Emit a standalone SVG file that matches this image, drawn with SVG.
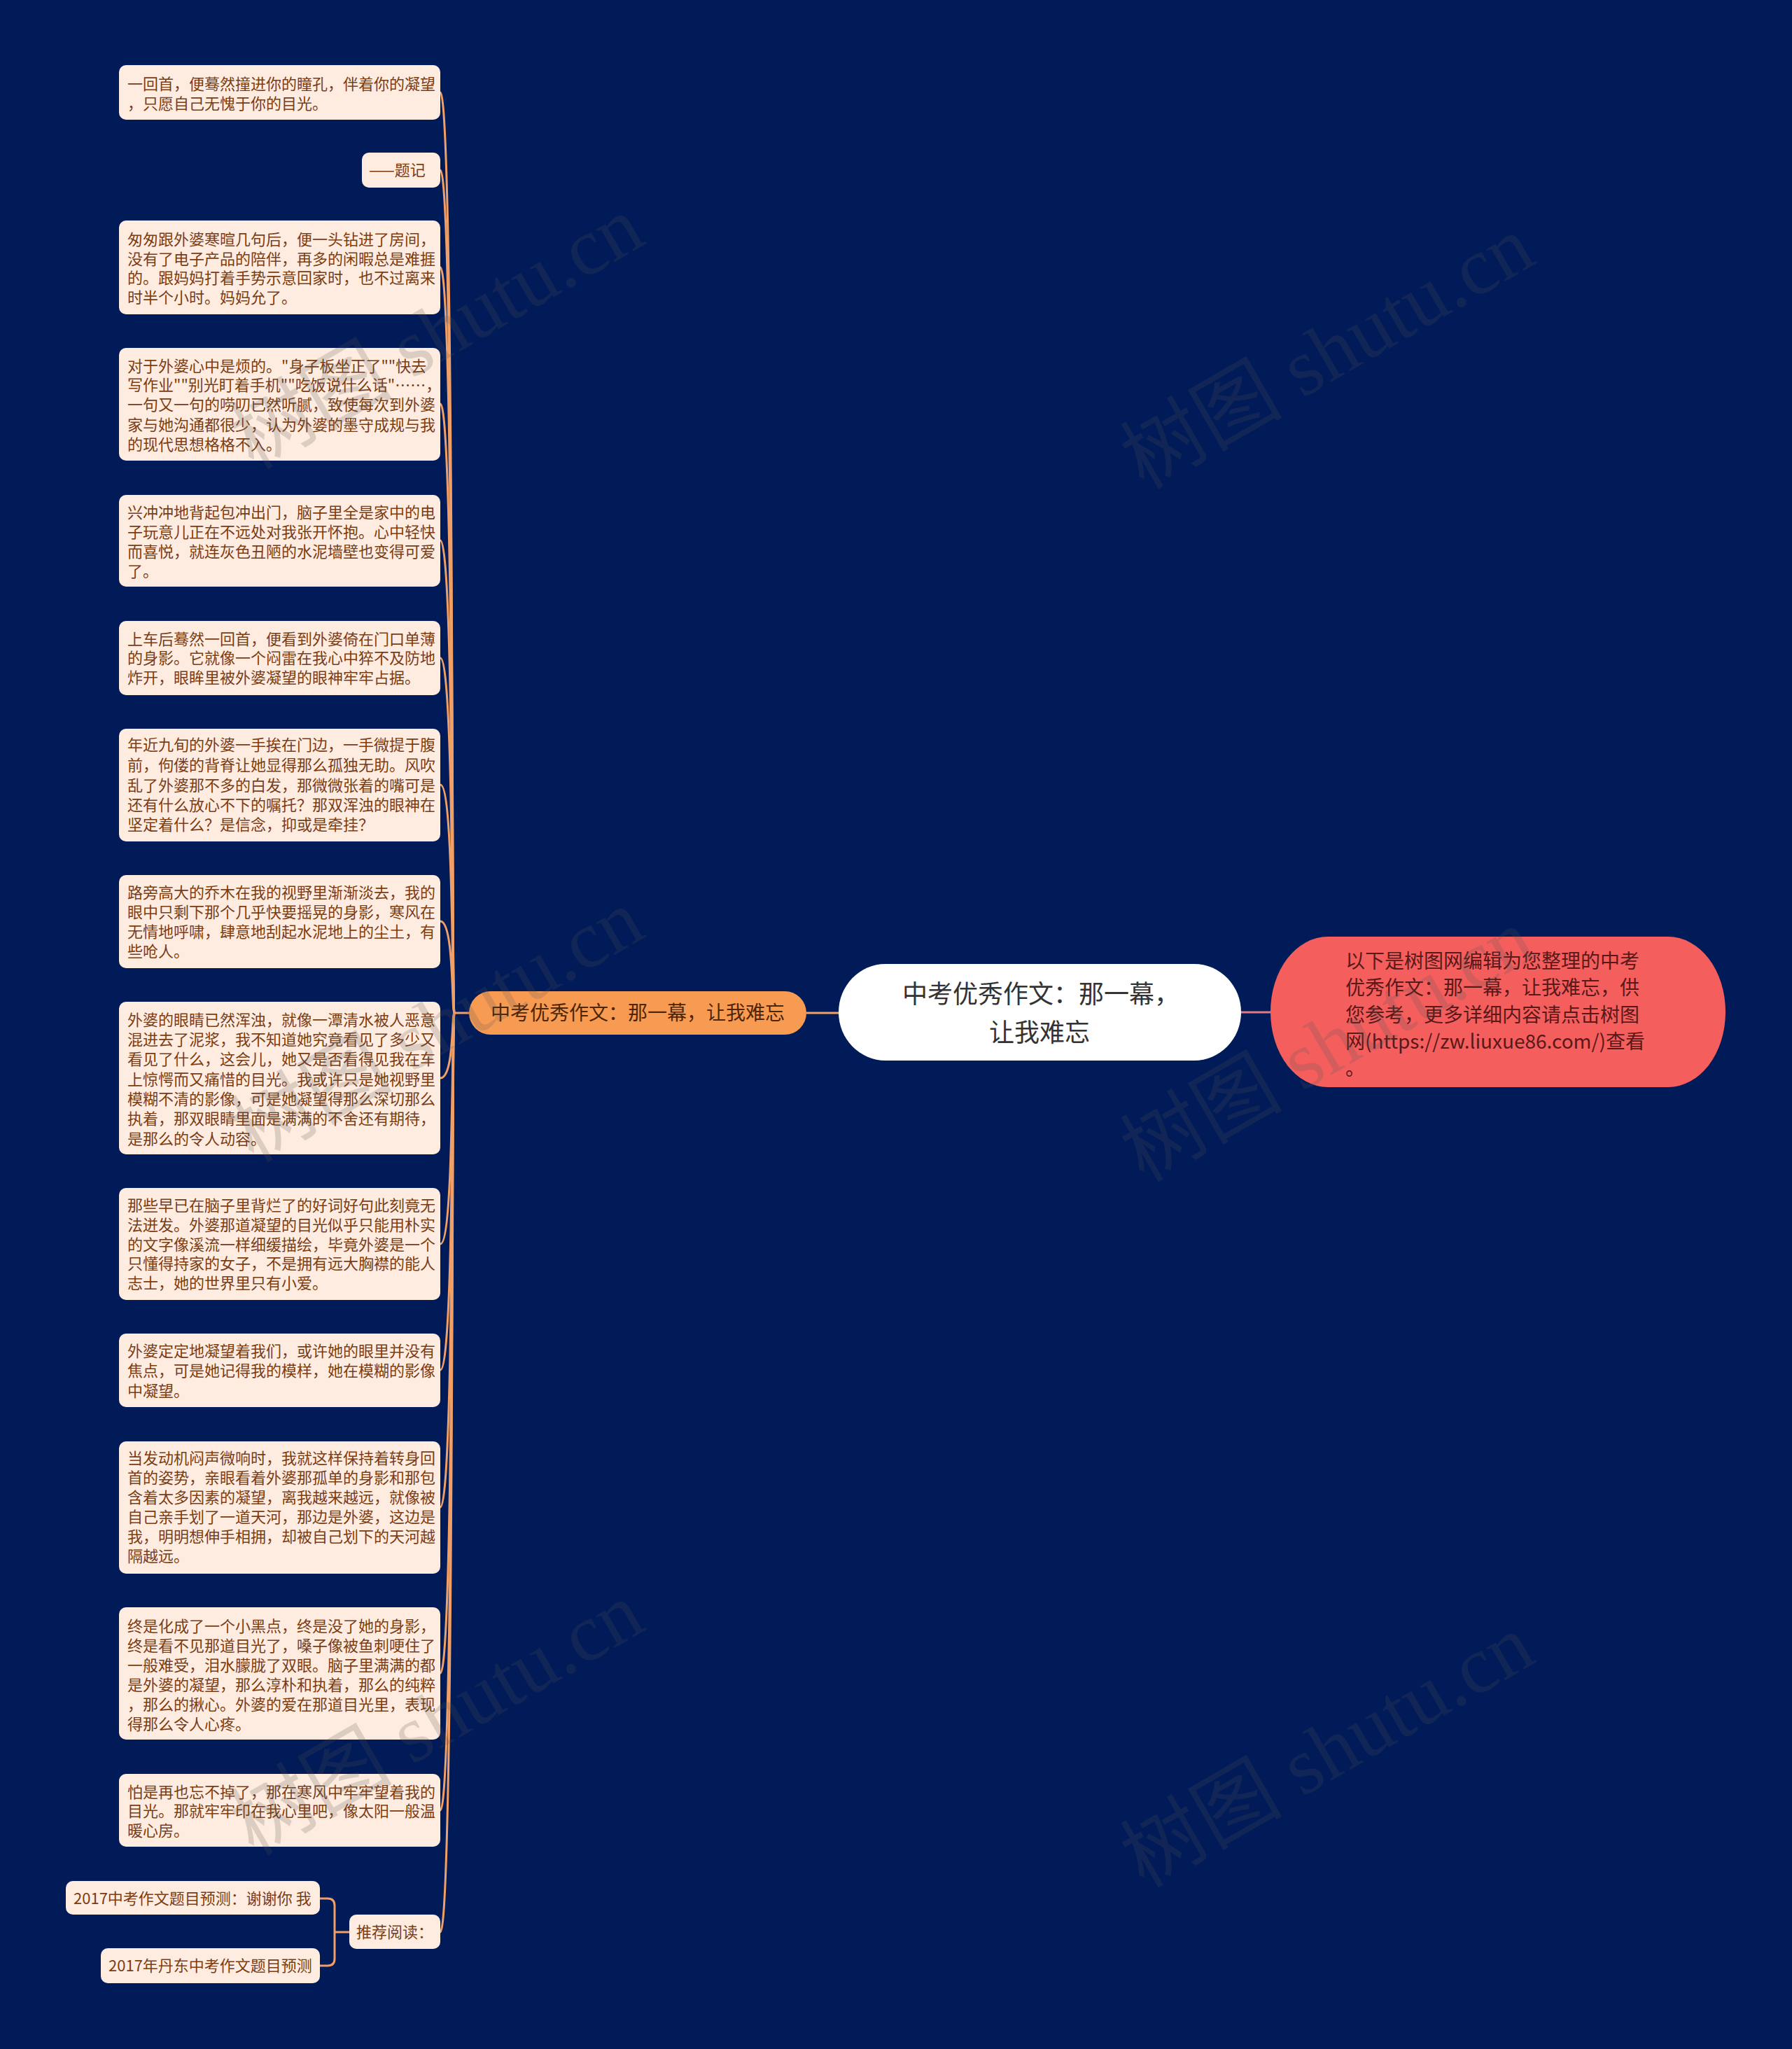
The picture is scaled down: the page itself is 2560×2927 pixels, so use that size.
<svg xmlns="http://www.w3.org/2000/svg" width="2560" height="2927" viewBox="0 0 2560 2927">
<style>
.bg{fill:#001b58}
.leaf{fill:#ffece0}
.lt{font-family:"Noto Sans CJK SC","Noto Sans",sans-serif;font-size:22px;fill:#7a3d14}
.con{fill:none;stroke:#f0a066;stroke-width:3}
.wm{font-family:"Liberation Serif","Noto Sans CJK SC",serif;font-size:116px;fill:#555;opacity:0.2}
</style>
<rect class="bg" x="0" y="0" width="2560" height="2927"/>

<g id="connectors">
<line x1="1152" y1="1447" x2="1199" y2="1447" class="con"/>
<line x1="1772" y1="1446" x2="1815" y2="1446" stroke="#e07a85" stroke-width="3"/>
<line x1="649" y1="1447" x2="671" y2="1447" class="con"/>
<path class="con" d="M629 132 C649 132 645 1447 649 1447"/>
<path class="con" d="M629 243 C649 243 645 1447 649 1447"/>
<path class="con" d="M629 382 C649 382 645 1447 649 1447"/>
<path class="con" d="M629 577 C649 577 645 1447 649 1447"/>
<path class="con" d="M629 772 C649 772 645 1447 649 1447"/>
<path class="con" d="M629 940 C649 940 645 1447 649 1447"/>
<path class="con" d="M629 1121 C649 1121 645 1447 649 1447"/>
<path class="con" d="M629 1316 C649 1316 645 1447 649 1447"/>
<path class="con" d="M629 1540 C649 1540 645 1447 649 1447"/>
<path class="con" d="M629 1777 C649 1777 645 1447 649 1447"/>
<path class="con" d="M629 1957 C649 1957 645 1447 649 1447"/>
<path class="con" d="M629 2153 C649 2153 645 1447 649 1447"/>
<path class="con" d="M629 2390 C649 2390 645 1447 649 1447"/>
<path class="con" d="M629 2586 C649 2586 645 1447 649 1447"/>
<path class="con" d="M629 2760 C649 2760 645 1447 649 1447"/>
<path class="con" d="M499 2760 L478 2760 M457 2712 L468 2712 Q478 2712 478 2722 L478 2798 Q478 2808 468 2808 L457 2808"/>
</g>

<g id="root">
<rect x="1198" y="1377" width="575" height="138" rx="67" ry="69" fill="#ffffff"/>
<text x="1487" y="1433" text-anchor="middle" font-family="'Noto Sans CJK SC','Noto Sans',sans-serif" font-size="36" fill="#333333">中考优秀作文：那一幕，</text>
<text x="1485" y="1488" text-anchor="middle" font-family="'Noto Sans CJK SC','Noto Sans',sans-serif" font-size="36" fill="#333333">让我难忘</text>
</g>

<g id="summary">
<rect x="1815" y="1338" width="650" height="215" rx="82" ry="107" fill="#f45f5e"/>
<g font-family="'Noto Sans CJK SC','Noto Sans',sans-serif" font-size="28" fill="#5a1818">
<text x="1922" y="1383">以下是树图网编辑为您整理的中考</text>
<text x="1922" y="1421">优秀作文：那一幕，让我难忘，供</text>
<text x="1922" y="1460">您参考，更多详细内容请点击树图</text>
<text x="1922" y="1498">网(https://zw.liuxue86.com/)查看</text>
<text x="1922" y="1536">。</text>
</g>
</g>

<g id="branch">
<rect x="670" y="1416" width="482" height="62" rx="31" fill="#f89b52"/>
<text x="911" y="1457" text-anchor="middle" font-family="'Noto Sans CJK SC','Noto Sans',sans-serif" font-size="28" fill="#4d2608">中考优秀作文：那一幕，让我难忘</text>
</g>

<g id="leaf1"><rect class="leaf" x="170" y="93" width="459" height="78" rx="10"/>
<text class="lt" x="182" y="128">一回首，便蓦然撞进你的瞳孔，伴着你的凝望</text>
<text class="lt" x="182" y="156">，只愿自己无愧于你的目光。</text></g>

<g id="leaf2"><rect class="leaf" x="517" y="218" width="112" height="50" rx="10"/>
<text class="lt" x="527" y="251">——题记</text></g>

<g id="leaf3"><rect class="leaf" x="170" y="315" width="459" height="134" rx="10"/>
<text class="lt" x="182" y="350">匆匆跟外婆寒暄几句后，便一头钻进了房间，</text>
<text class="lt" x="182" y="378">没有了电子产品的陪伴，再多的闲暇总是难捱</text>
<text class="lt" x="182" y="405">的。跟妈妈打着手势示意回家时，也不过离来</text>
<text class="lt" x="182" y="433">时半个小时。妈妈允了。</text></g>

<g id="leaf4"><rect class="leaf" x="170" y="497" width="459" height="161" rx="10"/>
<text class="lt" x="182" y="531">对于外婆心中是烦的。"身子板坐正了""快去</text>
<text class="lt" x="182" y="558">写作业""别光盯着手机""吃饭说什么话"……，</text>
<text class="lt" x="182" y="586">一句又一句的唠叨已然听腻，致使每次到外婆</text>
<text class="lt" x="182" y="615">家与她沟通都很少，认为外婆的墨守成规与我</text>
<text class="lt" x="182" y="643">的现代思想格格不入。</text></g>

<g id="leaf5"><rect class="leaf" x="170" y="707" width="459" height="131" rx="10"/>
<text class="lt" x="182" y="740">兴冲冲地背起包冲出门，脑子里全是家中的电</text>
<text class="lt" x="182" y="768">子玩意儿正在不远处对我张开怀抱。心中轻快</text>
<text class="lt" x="182" y="796">而喜悦，就连灰色丑陋的水泥墙壁也变得可爱</text>
<text class="lt" x="182" y="824">了。</text></g>

<g id="leaf6"><rect class="leaf" x="170" y="887" width="459" height="106" rx="10"/>
<text class="lt" x="182" y="921">上车后蓦然一回首，便看到外婆倚在门口单薄</text>
<text class="lt" x="182" y="948">的身影。它就像一个闷雷在我心中猝不及防地</text>
<text class="lt" x="182" y="976">炸开，眼眸里被外婆凝望的眼神牢牢占据。</text></g>

<g id="leaf7"><rect class="leaf" x="170" y="1041" width="459" height="161" rx="10"/>
<text class="lt" x="182" y="1072">年近九旬的外婆一手挨在门边，一手微提于腹</text>
<text class="lt" x="182" y="1101">前，佝偻的背脊让她显得那么孤独无助。风吹</text>
<text class="lt" x="182" y="1130">乱了外婆那不多的白发，那微微张着的嘴可是</text>
<text class="lt" x="182" y="1158">还有什么放心不下的嘱托？那双浑浊的眼神在</text>
<text class="lt" x="182" y="1186">坚定着什么？是信念，抑或是牵挂？</text></g>

<g id="leaf8"><rect class="leaf" x="170" y="1250" width="459" height="133" rx="10"/>
<text class="lt" x="182" y="1283">路旁高大的乔木在我的视野里渐渐淡去，我的</text>
<text class="lt" x="182" y="1311">眼中只剩下那个几乎快要摇晃的身影，寒风在</text>
<text class="lt" x="182" y="1339">无情地呼啸，肆意地刮起水泥地上的尘土，有</text>
<text class="lt" x="182" y="1367">些呛人。</text></g>

<g id="leaf9"><rect class="leaf" x="170" y="1431" width="459" height="218" rx="10"/>
<text class="lt" x="182" y="1465">外婆的眼睛已然浑浊，就像一潭清水被人恶意</text>
<text class="lt" x="182" y="1493">混进去了泥浆，我不知道她究竟看见了多少又</text>
<text class="lt" x="182" y="1521">看见了什么，这会儿，她又是否看得见我在车</text>
<text class="lt" x="182" y="1550">上惊愕而又痛惜的目光。我或许只是她视野里</text>
<text class="lt" x="182" y="1578">模糊不清的影像，可是她凝望得那么深切那么</text>
<text class="lt" x="182" y="1606">执着，那双眼睛里面是满满的不舍还有期待，</text>
<text class="lt" x="182" y="1635">是那么的令人动容。</text></g>

<g id="leaf10"><rect class="leaf" x="170" y="1697" width="459" height="160" rx="10"/>
<text class="lt" x="182" y="1730">那些早已在脑子里背烂了的好词好句此刻竟无</text>
<text class="lt" x="182" y="1758">法迸发。外婆那道凝望的目光似乎只能用朴实</text>
<text class="lt" x="182" y="1786">的文字像溪流一样细缓描绘，毕竟外婆是一个</text>
<text class="lt" x="182" y="1813">只懂得持家的女子，不是拥有远大胸襟的能人</text>
<text class="lt" x="182" y="1841">志士，她的世界里只有小爱。</text></g>

<g id="leaf11"><rect class="leaf" x="170" y="1905" width="459" height="105" rx="10"/>
<text class="lt" x="182" y="1938">外婆定定地凝望着我们，或许她的眼里并没有</text>
<text class="lt" x="182" y="1966">焦点，可是她记得我的模样，她在模糊的影像</text>
<text class="lt" x="182" y="1995">中凝望。</text></g>

<g id="leaf12"><rect class="leaf" x="170" y="2059" width="459" height="189" rx="10"/>
<text class="lt" x="182" y="2091">当发动机闷声微响时，我就这样保持着转身回</text>
<text class="lt" x="182" y="2119">首的姿势，亲眼看着外婆那孤单的身影和那包</text>
<text class="lt" x="182" y="2147">含着太多因素的凝望，离我越来越远，就像被</text>
<text class="lt" x="182" y="2175">自己亲手划了一道天河，那边是外婆，这边是</text>
<text class="lt" x="182" y="2203">我，明明想伸手相拥，却被自己划下的天河越</text>
<text class="lt" x="182" y="2231">隔越远。</text></g>

<g id="leaf13"><rect class="leaf" x="170" y="2296" width="459" height="189" rx="10"/>
<text class="lt" x="182" y="2331">终是化成了一个小黑点，终是没了她的身影，</text>
<text class="lt" x="182" y="2359">终是看不见那道目光了，嗓子像被鱼刺哽住了</text>
<text class="lt" x="182" y="2387">一般难受，泪水朦胧了双眼。脑子里满满的都</text>
<text class="lt" x="182" y="2415">是外婆的凝望，那么淳朴和执着，那么的纯粹</text>
<text class="lt" x="182" y="2443">，那么的揪心。外婆的爱在那道目光里，表现</text>
<text class="lt" x="182" y="2471">得那么令人心疼。</text></g>

<g id="leaf14"><rect class="leaf" x="170" y="2534" width="459" height="104" rx="10"/>
<text class="lt" x="182" y="2568">怕是再也忘不掉了，那在寒风中牢牢望着我的</text>
<text class="lt" x="182" y="2595">目光。那就牢牢印在我心里吧，像太阳一般温</text>
<text class="lt" x="182" y="2623">暖心房。</text></g>

<g id="recommend"><rect class="leaf" x="499" y="2735" width="130" height="49" rx="10"/>
<text class="lt" x="509" y="2768">推荐阅读：</text></g>

<g id="rec1"><rect class="leaf" x="94" y="2687" width="363" height="48" rx="10"/>
<text class="lt" x="105" y="2720">2017中考作文题目预测：谢谢你 我</text></g>

<g id="rec2"><rect class="leaf" x="144" y="2783" width="313" height="50" rx="10"/>
<text class="lt" x="155" y="2816">2017年丹东中考作文题目预测</text></g>

<g id="watermarks">
<text class="wm" transform="translate(362 672) rotate(-30)">树图 shutu.cn</text>
<text class="wm" transform="translate(1634 700) rotate(-30)">树图 shutu.cn</text>
<text class="wm" transform="translate(362 1662) rotate(-30)">树图 shutu.cn</text>
<text class="wm" transform="translate(1634 1690) rotate(-30)">树图 shutu.cn</text>
<text class="wm" transform="translate(362 2652) rotate(-30)">树图 shutu.cn</text>
<text class="wm" transform="translate(1634 2698) rotate(-30)">树图 shutu.cn</text>
</g>
</svg>
